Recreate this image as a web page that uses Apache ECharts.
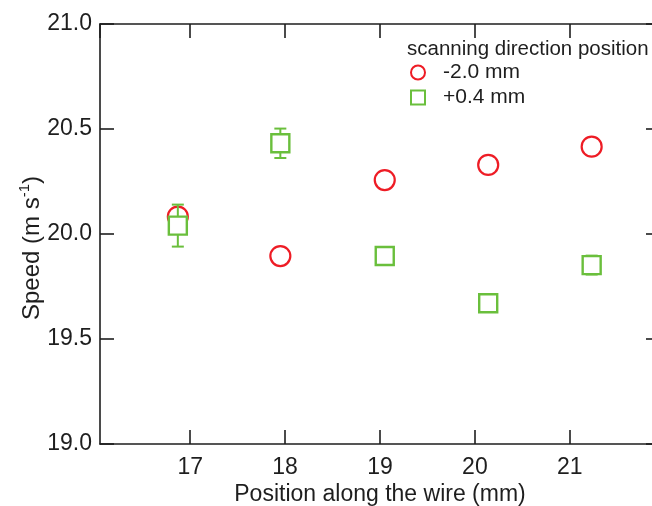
<!DOCTYPE html>
<html>
<head>
<meta charset="utf-8">
<script src="https://cdn.jsdelivr.net/npm/echarts@6/dist/echarts.min.js"></script>
<style>
  html, body { margin: 0; padding: 0; background: #fff; }
  #chart { width: 652px; height: 506px; }
</style>
</head>
<body>
<div id="chart"></div>
<script>
// wire positions (mm)
const positions = [16.87, 17.95, 19.05, 20.14, 21.23]
// speed at scanning direction position -2.0 mm
const speedMinus20 = [20.083, 19.895, 20.257, 20.329, 20.416]
// speed at scanning direction position +0.4 mm, with error
const speedPlus04 = [20.040, 20.432, 19.895, 19.670, 19.852]
const errPlus04 = [0.10, 0.07, 0, 0, 0.045]
const yTicks = [19.0, 19.5, 20.0, 20.5, 21.0]

const RED = '#ee1c25'
const GREEN = '#6abf3c'
const INK = '#1e1e1e'
const FONT = 'Liberation Sans, Arial, sans-serif'

const chart = echarts.init(document.getElementById('chart'))

const frameAxis = {
  axisLine: { show: true, onZero: false, lineStyle: { color: INK, width: 1.6 } },
  axisTick: { show: true, inside: true, length: 14, lineStyle: { color: INK, width: 1.6 } },
  splitLine: { show: false },
}

const xRange = { type: 'value', min: 16.05, max: 21.95, splitNumber: 5 }
const yRange = { type: 'value', min: yTicks[0], max: yTicks[yTicks.length - 1], interval: 0.5 }

const errorBars = positions.map((x, i) => [x, speedPlus04[i] - errPlus04[i], speedPlus04[i] + errPlus04[i]])
  .filter((d, i) => errPlus04[i] > 0)

const option = {
  backgroundColor: '#fff',
  animation: false,
  textStyle: { fontFamily: FONT },
  title: {
    text: 'scanning direction position',
    left: 402,
    top: 34,
    textStyle: { fontFamily: FONT, fontSize: 20.5, fontWeight: 'normal', color: INK },
  },
  legend: {
    orient: 'vertical',
    left: 405,
    top: 57,
    itemGap: 4,
    itemWidth: 14,
    itemHeight: 14,
    data: [
      { name: '-2.0 mm', icon: 'circle' },
      { name: '+0.4 mm', icon: 'rect' },
    ],
    textStyle: { fontFamily: FONT, fontSize: 21, color: INK, padding: [0, 0, 0, 13] },
  },
  grid: { left: 100, right: -8, top: 24, bottom: 62, outerBoundsMode: 'none' },
  xAxis: [
    {
      ...xRange,
      ...frameAxis,
      position: 'bottom',
      name: 'Position along the wire (mm)',
      nameLocation: 'middle',
      nameGap: 39,
      nameMoveOverlap: false,
      nameTextStyle: { fontFamily: FONT, fontSize: 23, color: INK },
      axisLabel: {
        fontFamily: FONT, fontSize: 23, color: INK, margin: 12,
        showMinLabel: false, showMaxLabel: false,
      },
    },
    {
      ...xRange,
      ...frameAxis,
      position: 'top',
      axisLabel: { show: false },
    },
  ],
  yAxis: [
    {
      ...yRange,
      ...frameAxis,
      position: 'left',
      name: '{a|Speed (m s}{b|-1}{a|)}',
      nameLocation: 'middle',
      nameRotate: 90,
      nameGap: 53,
      nameMoveOverlap: false,
      nameTextStyle: {
        fontFamily: FONT,
        color: INK,
        padding: [0, 28, 0, 0],
        rich: {
          a: { fontFamily: FONT, fontSize: 24, color: INK, lineHeight: 30 },
          b: { fontFamily: FONT, fontSize: 15, color: INK, verticalAlign: 'top', lineHeight: 15 },
        },
      },
      axisLabel: {
        fontFamily: FONT, fontSize: 23, color: INK, margin: 8,
        formatter: (v) => v.toFixed(1),
      },
    },
    {
      ...yRange,
      ...frameAxis,
      position: 'right',
      axisLabel: { show: false },
    },
  ],
  series: [
    {
      name: '-2.0 mm',
      type: 'scatter',
      data: positions.map((x, i) => [x, speedMinus20[i]]),
      symbol: 'circle',
      symbolSize: 20,
      itemStyle: { color: '#fff', borderColor: RED, borderWidth: 2.2, opacity: 1 },
      z: 2,
    },
    {
      name: 'errors',
      type: 'custom',
      data: errorBars,
      z: 3,
      renderItem: (params, api) => {
        const x = api.value(0)
        const lo = api.coord([x, api.value(1)])
        const hi = api.coord([x, api.value(2)])
        const cap = 6
        const style = { stroke: GREEN, lineWidth: 2 }
        return {
          type: 'group',
          children: [
            { type: 'line', shape: { x1: lo[0], y1: lo[1], x2: hi[0], y2: hi[1] }, style },
            { type: 'line', shape: { x1: lo[0] - cap, y1: lo[1], x2: lo[0] + cap, y2: lo[1] }, style },
            { type: 'line', shape: { x1: hi[0] - cap, y1: hi[1], x2: hi[0] + cap, y2: hi[1] }, style },
          ],
        }
      },
    },
    {
      name: '+0.4 mm',
      type: 'scatter',
      data: positions.map((x, i) => [x, speedPlus04[i]]),
      symbol: 'rect',
      symbolSize: 18,
      itemStyle: { color: '#fff', borderColor: GREEN, borderWidth: 2.4, opacity: 1 },
      z: 4,
    },
  ],
}

chart.setOption(option)
</script>
</body>
</html>
